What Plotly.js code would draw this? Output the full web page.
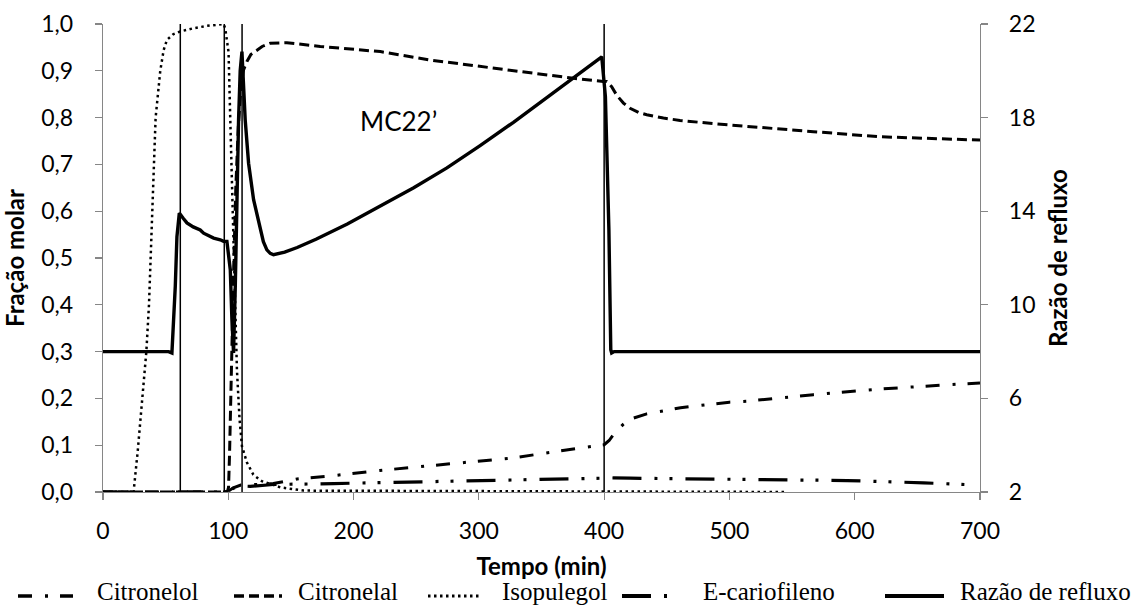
<!DOCTYPE html>
<html>
<head>
<meta charset="utf-8">
<script src="https://cdn.plot.ly/plotly-3.0.1.min.js"></script>
<style>
  html, body { margin: 0; padding: 0; background: #fff; }
  #grafico { width: 1141px; height: 606px; }
</style>
</head>
<body>
<div id="grafico"></div>
<script>
// Destilação em batelada MC22' — fração molar no destilado e razão de refluxo ao longo do tempo

const nomesSeries = ["Citronelol", "Citronelal", "Isopulegol", "E-cariofileno", "Razão de refluxo"];

const tempoCitronelol = [0, 99, 104, 110, 115, 136, 155, 184, 221, 262, 290, 328, 355, 381, 392, 400, 404, 408, 415, 420, 434, 461, 500, 514, 567, 620, 673, 700];
const citronelol      = [0, 0, 0.009, 0.015, 0.015, 0.018, 0.028, 0.035, 0.046, 0.056, 0.064, 0.073, 0.084, 0.094, 0.098, 0.101, 0.110, 0.125, 0.144, 0.155, 0.167, 0.180, 0.192, 0.194, 0.208, 0.220, 0.229, 0.233];

const tempoCitronelal = [0, 97, 99.5, 100.2, 101, 102.1, 103.2, 104.5, 106, 108, 110, 112.2, 114.9, 118, 122.9, 127, 133.5, 146.8, 173.4, 221.3, 261.2, 301, 340.9, 375.5, 399.4, 402, 406, 410, 415.4, 420.7, 427.4, 434, 447.3, 460.6, 487.2, 513.8, 567, 620, 660, 700];
const citronelal      = [0, 0, 0.003, 0.01, 0.08, 0.226, 0.35, 0.5, 0.65, 0.78, 0.86, 0.902, 0.92, 0.935, 0.944, 0.952, 0.959, 0.96, 0.952, 0.941, 0.923, 0.909, 0.896, 0.884, 0.877, 0.877, 0.866, 0.848, 0.831, 0.82, 0.811, 0.806, 0.799, 0.794, 0.787, 0.781, 0.770, 0.759, 0.755, 0.752];

const tempoIsopulegol = [0, 24.4, 27.6, 31.1, 34.6, 36.7, 38, 39.1, 40.1, 42, 45.7, 48.4, 51, 56, 61.7, 72.3, 83, 93.6, 96.3, 97.6, 100.2, 101.6, 102.9, 104.2, 105.6, 106.9, 109, 110.9, 114.9, 120, 126.8, 141.5, 160, 545];
const isopulegol      = [0, 0, 0.084, 0.2, 0.3, 0.4, 0.5, 0.6, 0.7, 0.8, 0.9, 0.944, 0.966, 0.978, 0.984, 0.991, 0.996, 1.0, 1.0, 0.99, 0.94, 0.795, 0.653, 0.511, 0.368, 0.261, 0.155, 0.098, 0.063, 0.037, 0.023, 0.01, 0.003, 0];

const tempoCariofileno = [0, 99, 104, 110, 117.5, 136, 184, 221.3, 247.8, 301, 370, 383.5, 407.4, 420.7, 479, 540, 594, 655, 691, 697];
const cariofileno      = [0, 0, 0.008, 0.013, 0.012, 0.016, 0.018, 0.020, 0.021, 0.025, 0.028, 0.028, 0.030, 0.0295, 0.028, 0.027, 0.0245, 0.0196, 0.016, 0.015];

const tempoRefluxo = [0, 52.4, 55, 57.7, 59, 60.9, 64, 67, 72, 77.6, 80.3, 88.3, 93.6, 96.2, 98.9, 101.6, 102.9, 104.2, 105.6, 106.9, 108.2, 109.5, 110.9, 113.5, 116.2, 120.2, 125.5, 128, 130.8, 133.5, 136.1, 145, 155, 170, 195, 221, 248, 274.5, 301, 327.6, 354, 367.5, 381, 391.5, 398.1, 401, 403.8, 405.3, 406, 408, 700];
const refluxo      = [8, 8, 7.94, 10.8, 12.9, 13.92, 13.7, 13.5, 13.33, 13.2, 13.06, 12.85, 12.78, 12.71, 12.71, 11.5, 9.36, 7.94, 10.8, 15.05, 17.9, 20.0, 20.82, 17.9, 16.05, 14.49, 13.2, 12.7, 12.35, 12.2, 12.14, 12.25, 12.45, 12.8, 13.45, 14.2, 15.0, 15.85, 16.8, 17.8, 18.85, 19.35, 19.9, 20.3, 20.6, 18.9, 13.2, 8.08, 7.94, 8, 8];

// Instantes de mudança de corte (min)
const cortes = [61.7, 96.8, 111, 400];

const rotulo = "MC22\u2019";
const rotuloX = 236;
const rotuloY = 0.793;

const ticksX = [0, 100, 200, 300, 400, 500, 600, 700];
const ticksY = [0, 0.1, 0.2, 0.3, 0.4, 0.5, 0.6, 0.7, 0.8, 0.9, 1.0];
const ticksY2 = [2, 6, 10, 14, 18, 22];

// Estilos de linha de cada série
const estilos = [
  { dash: "14px,13px,3px,12px", width: 3 },
  { dash: "10px,5px", width: 3 },
  { dash: "2.5px,3.5px", width: 2.5 },
  { dash: "29px,13px,3px,12px,3px,13px", width: 3.2 },
  { dash: "solid", width: 3.4 }
];

const pares = [
  [tempoCitronelol, citronelol, "y"],
  [tempoCitronelal, citronelal, "y"],
  [tempoIsopulegol, isopulegol, "y"],
  [tempoCariofileno, cariofileno, "y"],
  [tempoRefluxo, refluxo, "y2"]
];

const traces = pares.map((p, i) => ({
  type: "scatter",
  mode: "lines",
  name: nomesSeries[i],
  x: p[0],
  y: p[1],
  yaxis: p[2],
  line: { color: "#000", width: estilos[i].width, dash: estilos[i].dash },
  showlegend: false,
  hoverinfo: "x+y+name"
}));

// Área de plotagem em pixels
const M = { l: 103, r: 161, t: 24, b: 114 };
const W = 1141, H = 606;
const pw = W - M.l - M.r, ph = H - M.t - M.b;
const px2paperX = px => (px - M.l) / pw;
const py2paperY = py => (H - M.b - py) / ph;

// Legenda desenhada abaixo do eixo
const legSimbolo = [[18, 73], [234, 282], [428, 479], [622, 677], [885, 944]];
const legTextoX = [95, 296, 500, 701, 958];
const legSimboloY = 596;
const legTextoY = 591;

const shapes = cortes.map(c => ({
  type: "line", xref: "x", yref: "y",
  x0: c, x1: c, y0: 0, y1: 1.01,
  line: { color: "#000", width: 1.5 }
}));
legSimbolo.forEach((s, i) => {
  shapes.push({
    type: "line", xref: "paper", yref: "paper",
    x0: px2paperX(s[0]), x1: px2paperX(s[1]),
    y0: py2paperY(legSimboloY), y1: py2paperY(legSimboloY),
    line: { color: "#000", width: estilos[i].width + 0.6, dash: estilos[i].dash }
  });
});

const annotations = [{
  x: rotuloX, y: rotuloY, xref: "x", yref: "y",
  text: rotulo, showarrow: false,
  font: { family: "Lato, sans-serif", size: 26, color: "#000" }
}];
nomesSeries.forEach((n, i) => {
  annotations.push({
    x: px2paperX(legTextoX[i]), y: py2paperY(legTextoY),
    xref: "paper", yref: "paper", xanchor: "left", yanchor: "middle",
    text: n, showarrow: false,
    font: { family: "'Liberation Serif', 'Times New Roman', serif", size: 25, color: "#000" }
  });
});

const fonteTick = { family: "Lato, sans-serif", size: 23, color: "#000" };
const fonteTitulo = { family: "Lato, sans-serif", size: 24, color: "#000", weight: "bold" };
const eixoBase = {
  showline: true, linecolor: "#868686", linewidth: 1.2,
  ticks: "outside", tickcolor: "#868686", tickwidth: 1.2, ticklen: 7,
  showgrid: false, zeroline: false, tickfont: fonteTick, automargin: false
};

const layout = {
  width: W, height: H,
  margin: M,
  paper_bgcolor: "#fff", plot_bgcolor: "#fff",
  separators: ", ",
  showlegend: false,
  xaxis: Object.assign({}, eixoBase, {
    range: [0, 700], tickmode: "array", tickvals: ticksX,
    ticktext: ticksX.map(String), ticklabelstandoff: 11,
    title: { text: "Tempo (min)", font: fonteTitulo, standoff: 15 }
  }),
  yaxis: Object.assign({}, eixoBase, {
    range: [0, 1], tickmode: "array", tickvals: ticksY,
    ticktext: ticksY.map(v => v.toFixed(1).replace(".", ",")), ticklabelstandoff: 17,
    title: { text: "Fração molar", font: fonteTitulo, standoff: 9 }
  }),
  yaxis2: Object.assign({}, eixoBase, {
    overlaying: "y", side: "right",
    range: [2, 22], tickmode: "array", tickvals: ticksY2,
    ticktext: ticksY2.map(String), ticklabelstandoff: 16,
    title: { text: "Razão de refluxo", font: fonteTitulo, standoff: 15 }
  }),
  shapes: shapes,
  annotations: annotations
};

Plotly.newPlot("grafico", traces, layout, { displayModeBar: false, staticPlot: true });
</script>
</body>
</html>
